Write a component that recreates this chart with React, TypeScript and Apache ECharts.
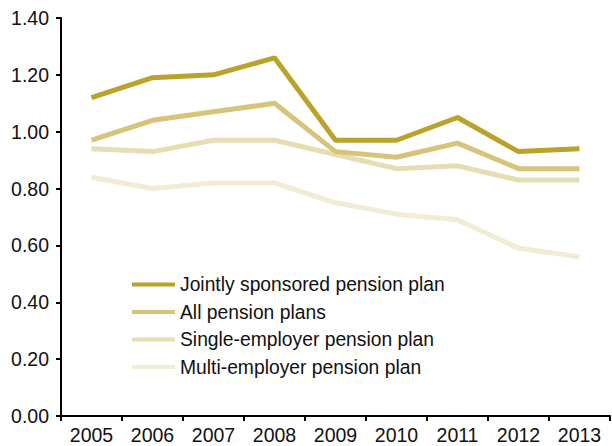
import React, { useEffect, useRef } from "react";
import * as echarts from "echarts";

const years = ["2005", "2006", "2007", "2008", "2009", "2010", "2011", "2012", "2013"];
const jointly = [1.12, 1.19, 1.2, 1.26, 0.97, 0.97, 1.05, 0.93, 0.94];
const allPlans = [0.97, 1.04, 1.07, 1.1, 0.93, 0.91, 0.96, 0.87, 0.87];
const single = [0.94, 0.93, 0.97, 0.97, 0.92, 0.87, 0.88, 0.83, 0.83];
const multi = [0.84, 0.8, 0.82, 0.82, 0.75, 0.71, 0.69, 0.59, 0.56];

const seriesNames = [
  "Jointly sponsored pension plan",
  "All pension plans",
  "Single-employer pension plan",
  "Multi-employer pension plan",
];
const seriesData = [jointly, allPlans, single, multi];
const colors = ["#BBA22A", "#D5C47A", "#E7DDB2", "#F1ECD4"];

const FONT = "'Liberation Sans Narrow', 'Liberation Sans', Arial, sans-serif";

export default function App() {
  const ref = useRef<HTMLDivElement>(null);
  useEffect(() => {
    if (!ref.current) return;
    const chart = echarts.init(ref.current, undefined, { renderer: "svg" });
    chart.setOption({
      animation: false,
      backgroundColor: "#ffffff",
      grid: { left: 61, right: 2, top: 18, bottom: 30, containLabel: false },
      legend: {
        orient: "vertical",
        left: 127,
        top: 270,
        itemWidth: 43,
        itemHeight: 4,
        itemGap: 8.5,
        data: seriesNames.map((n) => ({ name: n, icon: "rect" })),
        textStyle: { fontFamily: FONT, fontSize: 19.3, color: "#111" },
      },
      xAxis: {
        type: "category",
        data: years,
        boundaryGap: true,
        axisLine: { lineStyle: { color: "#000", width: 2 } },
        axisTick: { show: true, alignWithLabel: false, length: 5, lineStyle: { color: "#000", width: 2 } },
        axisLabel: { fontFamily: FONT, fontSize: 19.5, color: "#111", margin: 9 },
      },
      yAxis: {
        type: "value",
        min: 0,
        max: 1.4,
        interval: 0.2,
        axisLine: { show: true, lineStyle: { color: "#000", width: 2 } },
        axisTick: { show: true, length: 5, lineStyle: { color: "#000", width: 2 } },
        splitLine: { show: false },
        axisLabel: {
          fontFamily: FONT,
          fontSize: 19.5,
          color: "#111",
          margin: 12,
          formatter: (v: number) => v.toFixed(2),
        },
      },
      series: seriesNames.map((name, i) => ({
        name,
        type: "line",
        data: seriesData[i],
        symbol: "none",
        z: 10 - i,
        color: colors[i],
        lineStyle: { width: 5, color: colors[i] },
      })),
    });
    return () => chart.dispose();
  }, []);
  return (
    <div
      ref={ref}
      style={{ position: "absolute", left: 0, top: 0, width: 612, height: 446 }}
    />
  );
}
